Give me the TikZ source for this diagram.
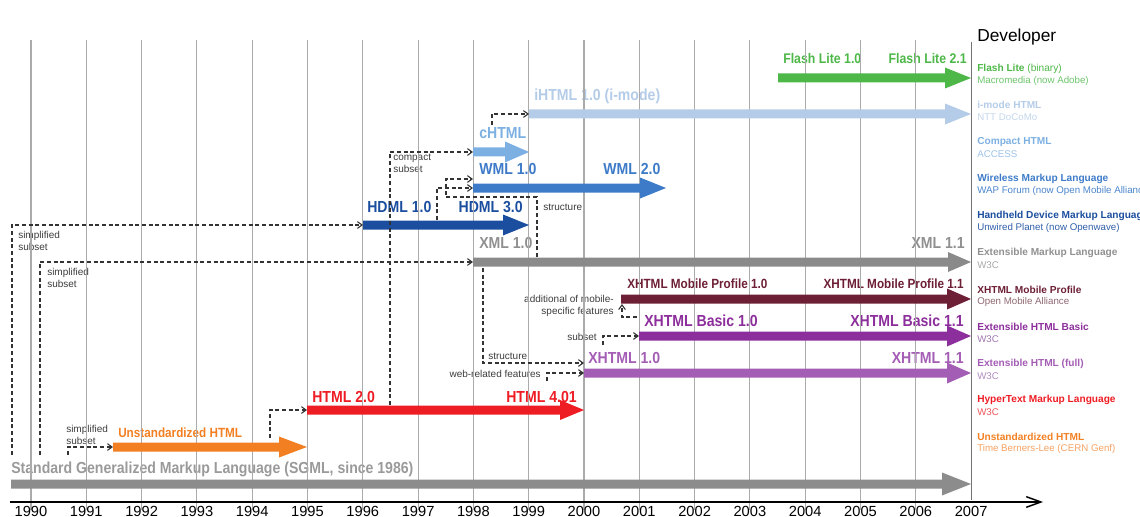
\documentclass[tikz,border=0pt]{standalone}
\usepackage{fontspec}
\setmainfont{Liberation Sans}
\newfontfamily\condf[FakeStretch=0.88]{Liberation Sans}
\usetikzlibrary{arrows.meta}
\definecolor{cSGML}{HTML}{8C8C8C}
\definecolor{cSGMLt}{HTML}{9A9A9A}
\definecolor{cOrange}{HTML}{F28022}
\definecolor{cRed}{HTML}{EE1D24}
\definecolor{cHDML}{HTML}{1B4E9E}
\definecolor{cWML}{HTML}{3D7BC8}
\definecolor{cCHTML}{HTML}{7DB0E2}
\definecolor{cIHTML}{HTML}{B4CCE7}
\definecolor{cFlash}{HTML}{4DB748}
\definecolor{cXML}{HTML}{8A8A8A}
\definecolor{cXMLt}{HTML}{909090}
\definecolor{cMP}{HTML}{6D1F35}
\definecolor{cBasic}{HTML}{8C2E9B}
\definecolor{cXHTML}{HTML}{A35DB4}
\definecolor{gridc}{HTML}{ABABAB}
\definecolor{dashc}{HTML}{333333}
\definecolor{dashtxt}{HTML}{3C3C3C}
\definecolor{sFlash}{HTML}{6CC46A}
\definecolor{sIHTML}{HTML}{C3D5EC}
\definecolor{sCHTML}{HTML}{9CC1E8}
\definecolor{sWML}{HTML}{4A84CC}
\definecolor{sHDML}{HTML}{2F5EA8}
\definecolor{sXML}{HTML}{A8A8A8}
\definecolor{sMP}{HTML}{8E6772}
\definecolor{sBasic}{HTML}{A178B0}
\definecolor{sXHTML}{HTML}{B18BC0}
\definecolor{sRed}{HTML}{F0555A}
\definecolor{sOrange}{HTML}{F5A263}
% bar with arrow head: color, x1, x2, y, head length, head width
\newcommand\tlbar[6]{%
  \fill[#1] (#2,#4-4.5) -- (#3-#5,#4-4.5) -- (#3-#5,#4-#6/2) -- (#3,#4)
    -- (#3-#5,#4+#6/2) -- (#3-#5,#4+4.5) -- (#2,#4+4.5) -- cycle;}
\begin{document}
\begin{tikzpicture}[x=0.75pt,y=-0.75pt,
  lab/.style={anchor=base west, inner sep=0pt, font=\condf\bfseries\fontsize{12}{12}\selectfont},
  labr/.style={lab, anchor=base east},
  labsm/.style={font=\condf\bfseries\fontsize{10.5}{10.5}\selectfont},
  small/.style={anchor=west, inner sep=0pt, font=\fontsize{7.5}{9}\selectfont, text=dashtxt, align=left},
  smallr/.style={small, anchor=east, align=right},
  legt/.style={anchor=west, inner sep=0pt, font=\bfseries\fontsize{7.6}{8}\selectfont},
  legs/.style={anchor=west, inner sep=0pt, font=\fontsize{7.3}{8}\selectfont},
  dep/.style={draw=dashc, line width=0.8pt, dash pattern=on 3pt off 2pt,
    -{Straight Barb[length=3.5pt,width=5pt]}},
  gridline/.style={draw=gridc, line width=0.85pt},
  yearlab/.style={anchor=base, inner sep=0pt, font=\fontsize{11}{11}\selectfont}]
\useasboundingbox (0,0) rectangle (1140,517);

% ---- bar labels
\node[lab, text=cSGMLt] (lsgml) at (11,473) {Standard Generalized Markup Language (SGML, since 1986)};
\node[lab, font=\condf\bfseries\fontsize{10}{10}\selectfont, text=cOrange] (lunst) at (118,437) {Unstandardized HTML};
\node[lab, text=cRed] (lhtmla) at (312,402) {HTML 2.0};
\node[labr, text=cRed] (lhtmlb) at (577,402) {HTML 4.01};
\node[lab, text=cHDML] (lhdmla) at (367,212) {HDML 1.0};
\node[labr, text=cHDML] (lhdmlb) at (523,212) {HDML 3.0};
\node[lab, text=cXMLt] (lxmla) at (479,248) {XML 1.0};
\node[labr, text=cXMLt] (lxmlb) at (965,248) {XML 1.1};
\node[lab, text=cWML] (lwmla) at (479,175) {WML 1.0};
\node[lab, text=cWML] (lwmlb) at (603,175) {WML 2.0};
\node[lab, text=cCHTML] (lchtml) at (479,138) {cHTML};
\node[lab, text=cIHTML] (lihtml) at (534,101) {iHTML 1.0 (i-mode)};
\node[lab, labsm, text=cFlash] (lflasha) at (783,64) {Flash Lite 1.0};
\node[labr, labsm, text=cFlash] (lflashb) at (967,64) {Flash Lite 2.1};
\node[lab, font=\condf\bfseries\fontsize{10}{10}\selectfont, text=cMP] (lmpa) at (627,288) {XHTML Mobile Profile 1.0};
\node[labr, font=\condf\bfseries\fontsize{10}{10}\selectfont, text=cMP] (lmpb) at (964,288) {XHTML Mobile Profile 1.1};
\node[lab, text=cBasic] (lbasica) at (644,326) {XHTML Basic 1.0};
\node[labr, text=cBasic] (lbasicb) at (964,326) {XHTML Basic 1.1};
\node[lab, text=cXHTML] (lxhtmla) at (588,363) {XHTML 1.0};
\node[labr, text=cXHTML] (lxhtmlb) at (964,363) {XHTML 1.1};

% ---- small connector labels
\node[small] (s1) at (18,241) {simplified\\subset};
\node[small] (s2) at (47,278) {simplified\\subset};
\node[small] (s3) at (66,435) {simplified\\subset};
\node[small] (s4) at (393,163) {compact\\subset};
\node[small] (s5) at (543,207) {structure};
\node[small] (s6) at (488,356) {structure};
\node[smallr] (s7) at (541,374) {web-related features};
\node[smallr] (s8) at (597,337) {subset};
\node[smallr] (s9) at (614,306) {additional of mobile-\\specific features};

% ---- grid
\foreach \i in {0,...,16} {
  \draw[gridline] ({31+\i*55.3},40) -- ({31+\i*55.3},510);
}
\draw[draw=gray!90!black, line width=0.9pt] (971.1,42) -- (971.1,500);

% ---- bars
\tlbar{cSGML}{11}{971}{484}{29}{23}
\tlbar{cOrange}{113}{307}{447}{28}{21}
\tlbar{cRed}{307}{584}{410}{24}{20}
\tlbar{cHDML}{363}{529}{225}{26}{21}
\tlbar{cWML}{473}{666}{188}{26}{21}
\tlbar{cCHTML}{473}{529}{152}{24}{21}
\tlbar{cIHTML}{529}{971}{114}{26}{21}
\tlbar{cFlash}{778}{971}{78}{26}{21}
\tlbar{cXML}{473}{971}{262}{23}{20}
\tlbar{cMP}{621}{971}{299}{24}{21}
\tlbar{cBasic}{639}{971}{336}{24}{21}
\tlbar{cXHTML}{584}{971}{373}{24}{21}

% ---- connector anchors
\coordinate (hdmlin) at (363,225);
\coordinate (xmlin) at (473,262);
\coordinate (unstin) at (113,447);
\coordinate (htmlin) at (307,410);
\coordinate (chtmlin) at (473,152);
\coordinate (ihtmlin) at (529,114);
\coordinate (wmlin) at (473,188);
\coordinate (wmlinb) at (473,179);
\coordinate (xhtmlin) at (584,363);
\coordinate (xhtmlinb) at (584,373);
\coordinate (basicin) at (639,336);
\coordinate (mpin) at (622,304);
\coordinate (fsgmla) at (12,455);
\coordinate (fsgmlb) at (40,455);
\coordinate (fsgmlc) at (68,455);
\coordinate (funst) at (270,438);
\coordinate (fhtml) at (390,405);
\coordinate (fchtml) at (492,125);
\coordinate (fhdml) at (437,220);
\coordinate (fxmla) at (537,257);
\coordinate (fxmlb) at (483,268);
\coordinate (fhtmlb) at (547,381);
\coordinate (fxhtml) at (603,345);
\coordinate (fbasic) at (637,317);

% ---- connectors
\draw[dep] (fsgmla) |- (hdmlin);
\draw[dep] (fsgmlb) |- (xmlin);
\draw[dep] (fsgmlc) |- (unstin);
\draw[dep] (funst) |- (htmlin);
\draw[dep] (fhtml) |- (chtmlin);
\draw[dep] (fchtml) |- (ihtmlin);
\draw[dep] (fhdml) |- (wmlin);
\draw[dep] (fxmla) -- (537,197) -- (446,197) |- (wmlinb);
\draw[dep] (fxmlb) |- (xhtmlin);
\draw[dep] (fhtmlb) |- (xhtmlinb);
\draw[dep] (fxhtml) |- (basicin);
\draw[dep] (fbasic) -| (mpin);

% ---- axis
\coordinate (axs) at (10,502);
\coordinate (axe) at (1043,502);
\draw[line width=1.1pt, -{Straight Barb[length=11pt,width=8pt]}] (axs) -- (axe);
\foreach \i in {0,...,17} {
  \pgfmathtruncatemacro\yr{1990+\i}
  \node[yearlab] (y\i) at ({31+\i*55.3},516) {\yr};
}

% ---- legend
\node[anchor=west, inner sep=0pt, font=\fontsize{13}{13}\selectfont] (dev) at (977,37) {Developer};
\node[legt, text=cFlash] (g1a) at (977,69) {Flash Lite \mdseries(binary)};
\node[legs, text=sFlash] (g1b) at (977,81) {Macromedia (now Adobe)};
\node[legt, text=cIHTML] (g2a) at (977,105) {i-mode HTML};
\node[legs, text=sIHTML] (g2b) at (977,117) {NTT DoCoMo};
\node[legt, text=cCHTML] (g3a) at (977,142) {Compact HTML};
\node[legs, text=sCHTML] (g3b) at (977,154) {ACCESS};
\node[legt, text=cWML] (g4a) at (977,179) {Wireless Markup Language};
\node[legs, text=sWML] (g4b) at (977,191) {WAP Forum (now Open Mobile Alliance)};
\node[legt, text=cHDML] (g5a) at (977,216) {Handheld Device Markup Language};
\node[legs, text=sHDML] (g5b) at (977,228) {Unwired Planet (now Openwave)};
\node[legt, text=cXMLt] (g6a) at (977,253) {Extensible Markup Language};
\node[legs, text=sXML] (g6b) at (977,265) {W3C};
\node[legt, text=cMP] (g7a) at (977,290) {XHTML Mobile Profile};
\node[legs, text=sMP] (g7b) at (977,302) {Open Mobile Alliance};
\node[legt, text=cBasic] (g8a) at (977,327) {Extensible HTML Basic};
\node[legs, text=sBasic] (g8b) at (977,339) {W3C};
\node[legt, text=cXHTML] (g9a) at (977,364) {Extensible HTML (full)};
\node[legs, text=sXHTML] (g9b) at (977,376) {W3C};
\node[legt, text=cRed] (g10a) at (977,400) {HyperText Markup Language};
\node[legs, text=sRed] (g10b) at (977,412) {W3C};
\node[legt, text=cOrange] (g11a) at (977,437) {Unstandardized HTML};
\node[legs, text=sOrange] (g11b) at (977,449) {Time Berners-Lee (CERN Genf)};
\end{tikzpicture}
\end{document}
